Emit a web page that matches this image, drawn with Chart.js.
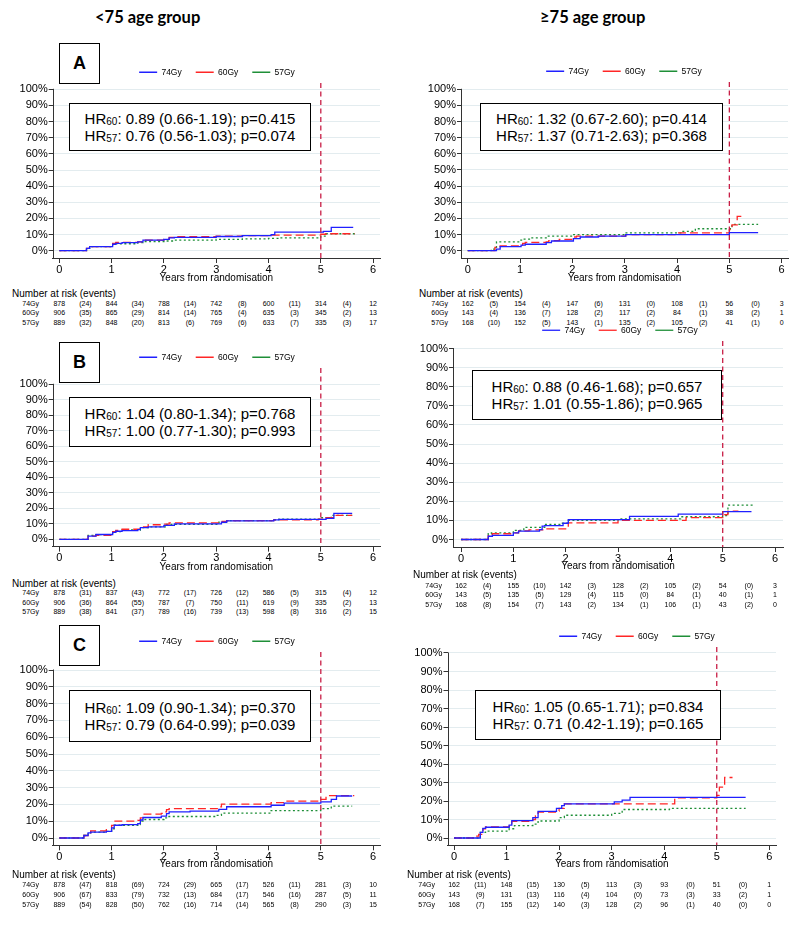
<!DOCTYPE html>
<html>
<head>
<meta charset="utf-8">
<title>Cumulative incidence by age group</title>
<script src="https://cdn.jsdelivr.net/npm/chart.js@4.4.1/dist/chart.umd.min.js"></script>
<style>
    body { margin: 0; background: #fff; }
    #page { position: relative; width: 800px; height: 925px; overflow: hidden; font-family: "Liberation Sans", Arial, sans-serif; color: #000; }
    #page canvas { position: absolute; }
    .hdr { position: absolute; top: 7px; font-family: Lato, "Liberation Sans", sans-serif; font-weight: bold; font-size: 16.5px; }
    .tag { position: absolute; width: 41px; height: 41px; border: 1.5px solid #000; box-sizing: border-box; background: #fff;
           font-weight: bold; font-size: 18px; display: flex; align-items: center; justify-content: center; }
    .hr { position: absolute; border: 1.5px solid #000; box-sizing: border-box; background: #fff; font-size: 15px; line-height: 17px;
          display: flex; flex-direction: column; justify-content: center; align-items: center; white-space: nowrap; }
    .hr sub { font-size: 10px; vertical-align: -1px; line-height: 0; }
    .rt { position: absolute; font-size: 7px; white-space: nowrap; transform: translate(-50%, -50%); }
    .rl { position: absolute; font-size: 7px; white-space: nowrap; transform: translate(-100%, -50%); }
    .rh { position: absolute; font-size: 10px; white-space: nowrap; transform: translateY(-50%); }
</style>
</head>
<body>
<div id="page">
    <div class="hdr" style="left:95px">&lt;75 age group</div>
    <div class="hdr" style="left:540px">≥75 age group</div>
</div>
<script>
// Axis ticks
const xTicks = [0, 1, 2, 3, 4, 5, 6];
const yTicks = [0, 10, 20, 30, 40, 50, 60, 70, 80, 90, 100];
const markYear = 5;
const seriesNames = ['74Gy', '60Gy', '57Gy'];

// Cumulative incidence curves [years, %]
// Panel A, <75
const aYoung74 = [[0,0],[0.52,1.5],[0.58,2.5],[1.02,4.0],[1.08,4.5],[1.2,5.0],[1.5,5.5],[1.6,6.5],[2.0,7.0],[2.1,8.0],[2.2,8.3],[3.0,8.8],[3.5,9.3],[4.05,10.0],[4.12,11.5],[5.05,12.0],[5.2,14.5],[5.62,14.5]];
const aYoung60 = [[0,0],[0.52,1.5],[0.58,2.5],[1.02,4.5],[1.08,5.2],[1.5,5.5],[1.6,6.5],[2.0,7.0],[2.1,8.3],[2.2,8.7],[3.0,9.0],[3.5,9.3],[4.0,9.7],[5.0,10.2],[5.1,10.5],[5.65,10.5]];
const aYoung57 = [[0,0],[0.52,1.5],[0.58,2.5],[1.02,4.3],[1.5,5.0],[1.6,5.7],[2.0,6.0],[2.2,6.5],[3.0,7.0],[3.5,7.3],[4.0,7.6],[4.2,8.0],[5.0,9.0],[5.1,10.5],[5.65,10.5]];
// Panel A, >=75
const aOld74 = [[0,0],[0.5,0],[0.55,1.0],[0.62,2.5],[1.02,3.5],[1.1,4.0],[1.5,5.0],[1.6,6.0],[2.02,7.5],[2.15,8.5],[2.5,9.0],[3.02,10.0],[5.0,11.2],[5.55,11.2]];
const aOld60 = [[0,0],[0.52,2.0],[0.62,3.0],[1.05,4.5],[1.1,5.2],[1.5,5.5],[1.55,6.2],[1.75,7.0],[2.02,8.5],[2.08,9.0],[3.02,10.0],[4.0,11.0],[5.0,13.0],[5.05,16.0],[5.15,21.3],[5.3,21.3]];
const aOld57 = [[0,0],[0.45,1.0],[0.55,5.5],[1.0,6.5],[1.05,7.2],[1.2,8.0],[1.5,9.0],[2.0,10.0],[3.0,11.0],[4.1,12.0],[4.35,13.6],[5.02,15.0],[5.05,16.3],[5.55,16.3]];
// Panel B, <75
const bYoung74 = [[0,0],[0.5,0],[0.55,2.0],[0.7,3.1],[1.02,4.5],[1.08,5.2],[1.2,5.6],[1.5,6.2],[1.55,7.5],[1.7,8.0],[2.0,9.0],[2.2,10.0],[3.1,11.0],[3.2,11.9],[4.1,12.5],[4.2,12.8],[5.1,13.5],[5.25,16.7],[5.6,16.7]];
const bYoung60 = [[0,0],[0.55,2.0],[0.7,2.5],[1.02,5.0],[1.08,5.8],[1.2,6.5],[1.55,8.0],[1.7,9.4],[2.0,9.8],[2.1,10.6],[3.1,11.5],[3.2,12.0],[4.1,12.5],[4.95,13.0],[5.1,14.0],[5.25,15.4],[5.6,15.4]];
const bYoung57 = [[0,0],[0.55,2.5],[0.7,3.0],[1.02,5.0],[1.2,6.0],[1.55,7.5],[1.7,8.0],[2.05,9.6],[3.05,11.0],[3.2,12.0],[4.1,12.5],[4.2,13.0],[5.0,14.0],[5.2,15.4],[5.6,15.4]];
// Panel B, >=75
const bOld74 = [[0,0],[0.52,1.7],[0.6,2.2],[1.0,3.5],[1.1,4.4],[1.5,5.2],[1.55,7.0],[1.6,7.3],[1.95,8.5],[2.05,10.4],[3.22,12.1],[4.15,13.3],[5.0,14.6],[5.55,14.6]];
const bOld60 = [[0,0],[0.52,2.0],[0.6,3.0],[1.0,3.5],[1.1,4.5],[1.3,5.0],[1.6,5.6],[2.05,8.7],[3.0,10.0],[4.3,11.5],[5.0,13.0],[5.1,14.8],[5.3,14.8]];
const bOld57 = [[0,0],[0.52,3.0],[0.58,3.5],[1.0,4.8],[1.2,6.3],[1.6,7.9],[1.9,8.5],[2.05,10.0],[3.0,10.8],[4.2,11.9],[5.0,12.5],[5.1,18.0],[5.6,18.0]];
// Panel C, <75
const cYoung74 = [[0,0],[0.47,1.5],[0.55,3.0],[0.6,3.5],[0.9,4.0],[1.0,6.0],[1.05,7.6],[1.2,8.0],[1.5,8.5],[1.55,10.7],[1.6,12.2],[1.95,13.0],[2.05,14.5],[2.1,15.5],[2.5,16.0],[3.05,17.0],[3.2,18.6],[4.05,19.5],[4.3,20.8],[5.0,21.5],[5.2,23.0],[5.3,25.0],[5.6,25.0]];
const cYoung60 = [[0,0],[0.47,1.5],[0.55,3.0],[0.6,4.3],[0.9,5.0],[1.0,7.5],[1.05,10.1],[1.5,10.5],[1.55,12.0],[1.6,14.2],[1.95,14.6],[2.0,15.5],[2.05,16.9],[2.1,17.5],[3.05,18.5],[3.1,20.2],[4.05,21.0],[4.3,22.0],[5.0,23.0],[5.1,25.2],[5.64,25.2]];
const cYoung57 = [[0,0],[0.47,1.5],[0.55,3.0],[0.6,3.5],[0.9,4.0],[1.0,5.5],[1.05,7.6],[1.5,8.0],[1.55,10.1],[1.6,11.0],[2.0,12.0],[2.05,12.8],[3.0,13.5],[3.1,14.8],[4.05,16.3],[5.0,17.5],[5.2,19.0],[5.6,19.0]];
// Panel C, >=75
const cOld74 = [[0,0],[0.5,3.0],[0.55,5.2],[0.6,5.8],[1.05,7.0],[1.1,9.4],[1.5,11.0],[1.6,14.4],[1.95,16.0],[2.05,17.5],[2.1,18.5],[3.05,19.5],[3.2,20.5],[3.35,22.0],[5.55,22.0]];
const cOld60 = [[0,0],[0.4,1.0],[0.47,2.0],[0.55,5.0],[0.6,6.0],[1.05,7.5],[1.1,9.0],[1.5,10.0],[1.55,12.0],[1.6,14.0],[1.95,14.6],[2.0,16.0],[2.1,18.5],[4.2,21.7],[5.0,23.0],[5.05,27.5],[5.15,32.7],[5.3,32.7]];
const cOld57 = [[0,0],[0.5,3.0],[0.6,3.75],[1.05,5.0],[1.15,6.7],[1.5,7.5],[1.6,9.2],[2.0,11.0],[2.1,12.3],[3.0,13.3],[3.2,15.4],[4.1,16.0],[5.55,16.0]];

// Number at risk at years 0..6 and events in each interval
const aYoungRisk = [[878,844,788,742,600,314,12],[906,865,814,765,635,345,13],[889,848,813,769,633,335,17]];
const aYoungEvents = [[24,34,14,8,11,4],[35,29,14,4,3,2],[32,20,6,6,7,3]];
const aOldRisk = [[162,154,147,131,108,56,3],[143,136,128,117,84,38,1],[168,152,143,135,105,41,0]];
const aOldEvents = [[5,4,6,0,1,0],[4,7,2,2,1,2],[10,5,1,2,2,1]];
const bYoungRisk = [[878,837,772,726,586,315,12],[906,864,787,750,619,335,13],[889,841,789,739,598,316,15]];
const bYoungEvents = [[31,43,17,12,5,4],[36,55,7,11,9,2],[38,37,16,13,8,2]];
const bOldRisk = [[162,155,142,128,105,54,3],[143,135,129,115,84,40,1],[168,154,143,134,106,43,0]];
const bOldEvents = [[4,10,3,2,2,0],[5,5,4,0,1,1],[8,7,2,1,1,2]];
const cYoungRisk = [[878,818,724,665,526,281,10],[906,833,732,684,546,287,11],[889,828,762,714,565,290,15]];
const cYoungEvents = [[47,69,29,17,11,3],[67,79,13,17,16,5],[54,50,16,14,8,3]];
const cOldRisk = [[162,148,130,113,93,51,1],[143,131,116,104,73,33,1],[168,155,140,128,96,40,0]];
const cOldEvents = [[11,15,5,3,0,0],[9,13,4,0,3,2],[7,12,3,2,1,0]];

// Hazard ratio annotations [HR60 line, HR57 line]
const aYoungHR = ['0.89 (0.66-1.19); p=0.415', '0.76 (0.56-1.03); p=0.074'];
const aOldHR = ['1.32 (0.67-2.60); p=0.414', '1.37 (0.71-2.63); p=0.368'];
const bYoungHR = ['1.04 (0.80-1.34); p=0.768', '1.00 (0.77-1.30); p=0.993'];
const bOldHR = ['0.88 (0.46-1.68); p=0.657', '1.01 (0.55-1.86); p=0.965'];
const cYoungHR = ['1.09 (0.90-1.34); p=0.370', '0.79 (0.64-0.99); p=0.039'];
const cOldHR = ['1.05 (0.65-1.71); p=0.834', '0.71 (0.42-1.19); p=0.165'];

// Line styles for 74Gy, 60Gy, 57Gy
const lineColors = ['#2020ff', '#ff2626', '#1f8f38'];
const lineDashes = [[], [8, 4], [2, 2.5]];

// Page layout of each panel (pixels on the 800x925 page)
const panels = [
    { tag: 'A', col: 0,   curves: [aYoung74, aYoung60, aYoung57], risk: aYoungRisk, events: aYoungEvents, hr: aYoungHR,
      x0: 59.3, pxYr: 52.3, y0: 250.7, pxPct: 1.614, plotL: 52.7, plotR: 380, plotB: 258,
      legendY: 72, legendX: 217, titleY: 278.3, riskY: [293, 303, 312.3, 322], headX: 12, labelR: 39,
      tagBox: [59, 43], hrBox: [69, 103, 242, 48] },
    { tag: '',  col: 400, curves: [aOld74, aOld60, aOld57], risk: aOldRisk, events: aOldEvents, hr: aOldHR,
      x0: 467.7, pxYr: 52.33, y0: 250.7, pxPct: 1.614, plotL: 461, plotR: 788, plotB: 258,
      legendY: 71, legendX: 624, titleY: 278.3, riskY: [292.7, 302.7, 312.3, 322], headX: 419, labelR: 448,
      hrBox: [480, 103, 243, 48] },
    { tag: 'B', col: 0,   curves: [bYoung74, bYoung60, bYoung57], risk: bYoungRisk, events: bYoungEvents, hr: bYoungHR,
      x0: 59.3, pxYr: 52.3, y0: 539.3, pxPct: 1.55, plotL: 52.7, plotR: 380, plotB: 546.6,
      legendY: 357, legendX: 217, titleY: 567, riskY: [583, 592, 602, 611], headX: 12, labelR: 39,
      tagBox: [59, 342], hrBox: [69, 397, 242, 50] },
    { tag: '',  col: 400, curves: [bOld74, bOld60, bOld57], risk: bOldRisk, events: bOldEvents, hr: bOldHR,
      x0: 461, pxYr: 52.34, y0: 539.5, pxPct: 1.91, plotL: 453, plotR: 783, plotB: 547,
      legendY: 330, legendX: 620, titleY: 566, riskY: [574, 585, 594, 604], headX: 413, labelR: 442,
      hrBox: [472, 370, 250, 50] },
    { tag: 'C', col: 0,   curves: [cYoung74, cYoung60, cYoung57], risk: cYoungRisk, events: cYoungEvents, hr: cYoungHR,
      x0: 59.3, pxYr: 52.3, y0: 838, pxPct: 1.68, plotL: 52.7, plotR: 380, plotB: 845.3,
      legendY: 641, legendX: 217, titleY: 864, riskY: [873.5, 884.3, 894, 903.7], headX: 12, labelR: 39,
      tagBox: [59, 625], hrBox: [69, 690, 242, 52] },
    { tag: '',  col: 400, curves: [cOld74, cOld60, cOld57], risk: cOldRisk, events: cOldEvents, hr: cOldHR,
      x0: 454, pxYr: 52.55, y0: 838, pxPct: 1.85, plotL: 447.5, plotR: 776, plotB: 845,
      legendY: 636, legendX: 637, titleY: 864, riskY: [873.5, 884.3, 894, 903.7], headX: 407, labelR: 435,
      hrBox: [475, 690, 246, 50] }
];

const page = document.getElementById('page');

Chart.defaults.font.family = '"Liberation Sans", Arial, sans-serif';
Chart.defaults.color = '#000';

// Vertical dashed reference line at 5 years
const markLine = {
    id: 'markLine',
    afterDatasetsDraw(chart) {
        const { ctx, chartArea, scales } = chart;
        const x = scales.x.getPixelForValue(markYear);
        ctx.save();
        ctx.strokeStyle = '#c81e46';
        ctx.lineWidth = 1.3;
        ctx.setLineDash([5, 3.5]);
        ctx.beginPath();
        ctx.moveTo(x, chartArea.top);
        ctx.lineTo(x, chartArea.bottom);
        ctx.stroke();
        ctx.restore();
    }
};

// Y axis line only spans the tick range (0% to 100%)
const yAxisLine = {
    id: 'yAxisLine',
    beforeDatasetsDraw(chart) {
        const { ctx, chartArea, scales } = chart;
        const x = Math.round(chartArea.left) + 0.5;
        ctx.save();
        ctx.strokeStyle = '#333';
        ctx.lineWidth = 1;
        ctx.beginPath();
        ctx.moveTo(x, scales.y.getPixelForValue(yTicks[yTicks.length - 1]) - 0.5);
        ctx.lineTo(x, chartArea.bottom);
        ctx.stroke();
        ctx.restore();
    }
};

// Moves the legend row so it is centred on a given x (canvas pixels)
const legendShift = {
    id: 'legendShift',
    afterLayout(chart, args, opts) {
        const lg = chart.legend;
        if (!lg || opts.centerX == null) return;
        const dx = opts.centerX - (lg.left + lg.right) / 2;
        lg.left += dx;
        lg.right += dx;
    }
};

panels.forEach(buildPanel);

function buildPanel(p) {
    const top = p.legendY - 22;
    const height = Math.round(p.titleY + 6 - top);
    const padTop = p.legendY - top - 18;
    const plotT = p.legendY + 11;

    const canvas = document.createElement('canvas');
    canvas.width = 400;
    canvas.height = height;
    canvas.style.left = p.col + 'px';
    canvas.style.top = top + 'px';
    page.appendChild(canvas);

    const chart = new Chart(canvas.getContext('2d'), {
        type: 'line',
        data: {
            datasets: p.curves.map((curve, i) => ({
                label: seriesNames[i],
                data: curve.map(([x, y]) => ({ x: x, y: y })),
                borderColor: lineColors[i],
                backgroundColor: lineColors[i],
                borderDash: lineDashes[i],
                borderWidth: 1.3,
                stepped: true,
                pointRadius: 0,
                fill: false
            }))
        },
        options: {
            responsive: false,
            animation: false,
            layout: { padding: { left: 0, right: p.col + 400 - p.plotR, top: padTop, bottom: 0 } },
            plugins: {
                tooltip: { enabled: false },
                legendShift: { centerX: p.legendX - p.col },
                legend: {
                    position: 'top',
                    fullSize: false,
                    maxHeight: plotT - top - padTop,
                    labels: {
                        usePointStyle: true,
                        pointStyle: 'line',
                        pointStyleWidth: 18,
                        padding: 14,
                        color: '#000',
                        font: { size: 8.5 }
                    }
                }
            },
            scales: {
                x: {
                    type: 'linear',
                    min: (p.plotL - p.x0) / p.pxYr,
                    max: (p.plotR - p.x0) / p.pxYr,
                    afterBuildTicks: s => { s.ticks = xTicks.map(v => ({ value: v })); },
                    afterFit: s => { s.height = top + height - p.plotB; },
                    border: { color: '#333', width: 1 },
                    grid: { drawOnChartArea: false, tickLength: 5, tickColor: '#333' },
                    ticks: { padding: 0, font: { size: 11 }, maxRotation: 0 },
                    title: { display: true, text: 'Years from randomisation', font: { size: 10 }, padding: 0 }
                },
                y: {
                    min: (p.y0 - p.plotB) / p.pxPct,
                    max: (p.y0 - plotT) / p.pxPct,
                    afterBuildTicks: s => { s.ticks = yTicks.map(v => ({ value: v })); },
                    afterFit: s => { s.width = p.plotL - p.col; },
                    border: { display: false },
                    grid: { color: '#e3ecef', tickLength: 4, tickColor: '#333' },
                    ticks: { padding: 1, font: { size: 11 }, callback: v => v + '%' }
                }
            }
        },
        plugins: [yAxisLine, markLine, legendShift]
    });

    addRiskTable(p, chart.scales.x);
    addBoxes(p);
}

function addRiskTable(p, xScale) {
    addText('rh', 'Number at risk (events)', p.headX, p.riskY[0]);
    seriesNames.forEach((name, r) => {
        const y = p.riskY[r + 1];
        addText('rl', name, p.labelR, y);
        p.risk[r].forEach((n, k) => {
            addText('rt', String(n), p.col + xScale.getPixelForValue(xTicks[k]), y);
        });
        p.events[r].forEach((e, k) => {
            addText('rt', '(' + e + ')', p.col + xScale.getPixelForValue(xTicks[k] + 0.5), y);
        });
    });
}

function addBoxes(p) {
    if (p.tag) {
        const t = document.createElement('div');
        t.className = 'tag';
        t.textContent = p.tag;
        t.style.left = p.tagBox[0] + 'px';
        t.style.top = p.tagBox[1] + 'px';
        page.appendChild(t);
    }
    const [l, t, w, h] = p.hrBox;
    const box = document.createElement('div');
    box.className = 'hr';
    box.style.left = l + 'px';
    box.style.top = t + 'px';
    box.style.width = w + 'px';
    box.style.height = h + 'px';
    box.innerHTML = '<div>HR<sub>60</sub>: ' + p.hr[0] + '</div><div>HR<sub>57</sub>: ' + p.hr[1] + '</div>';
    page.appendChild(box);
}

function addText(cls, text, x, y) {
    const el = document.createElement('div');
    el.className = cls;
    el.textContent = text;
    el.style.left = x + 'px';
    el.style.top = y + 'px';
    page.appendChild(el);
}
</script>
</body>
</html>
